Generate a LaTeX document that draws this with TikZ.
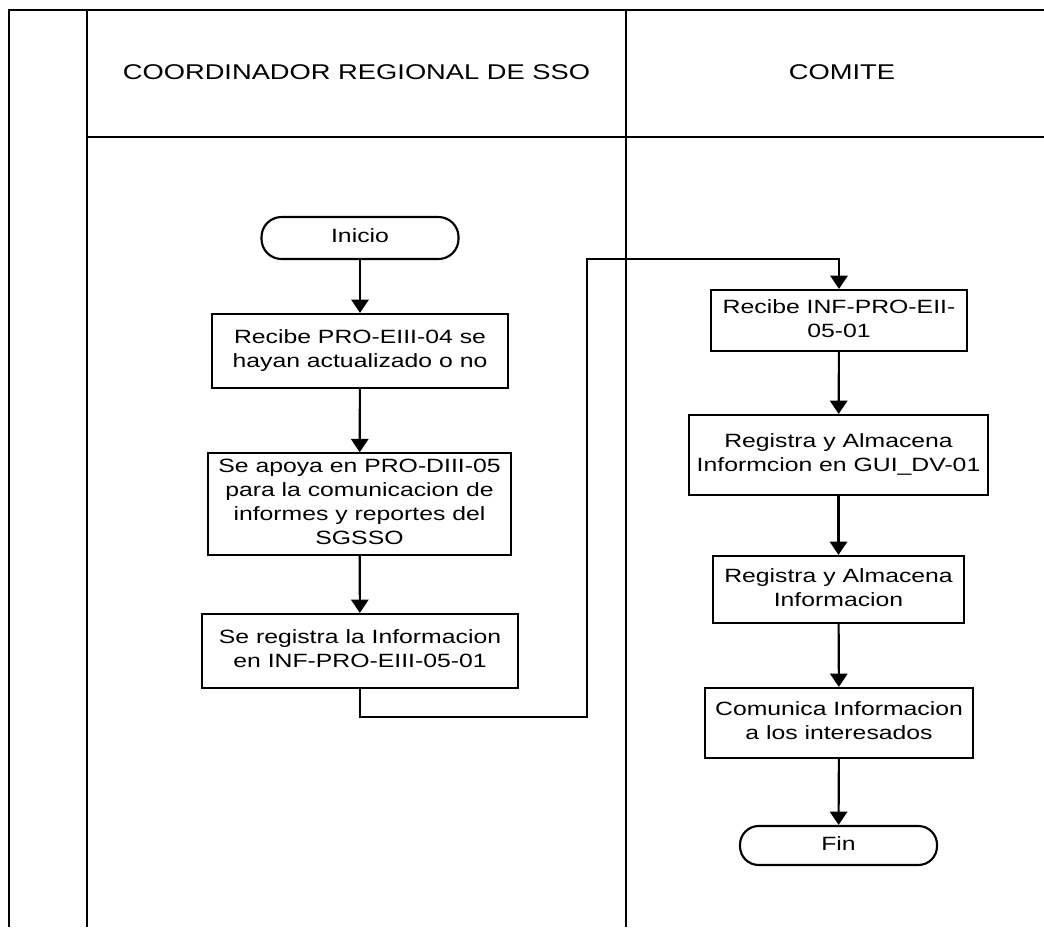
\documentclass[tikz,border=0pt]{standalone}
\usepackage{fontspec}
\setmainfont{Liberation Sans}
\usepackage{graphicx}
\usetikzlibrary{arrows.meta}

% text of the flow steps: slightly widened Arial-like lettering
\newcommand\steptext[1]{{\fontsize{14.4pt}{18pt}\selectfont\scalebox{1.29}[1]{\begin{tabular}{@{}c@{}}#1\end{tabular}}}}
% lane titles
\newcommand\lanetext[1]{{\fontsize{16pt}{19pt}\selectfont\scalebox{1.28}[1]{#1}}}

\tikzset{
  frame/.style={line width=1.7pt},
  stepbox/.style={draw, rectangle, line width=1.6pt, inner sep=2pt},
  terminal/.style={draw, rectangle, line width=1.6pt, inner sep=2pt},
  flow/.style={line width=1.6pt, -{Triangle[length=10pt,width=13pt]}},
}

\begin{document}
\begin{tikzpicture}[x=0.75pt, y=-0.75pt]
  \useasboundingbox[fill=white] (0,0) rectangle (1044,927);

  % swimlane frame
  \draw[frame] (9,927) -- (9,10) -- (1044,10);
  \draw[frame] (87,927) -- (87,10);
  \draw[frame] (626,927) -- (626,10);
  \draw[frame] (87,137) -- (1044,137);

  % lane titles
  \node (lane1) at (356.5,72) {\lanetext{COORDINADOR REGIONAL DE SSO}};
  \node (lane2) at (842,72) {\lanetext{COMITE}};

  % coordinator lane
  \node[terminal, rounded corners=15pt, minimum width=147.75pt, minimum height=31.5pt] (inicio) at (360,238) {\steptext{Inicio}};
  \node[stepbox, minimum width=222pt, minimum height=55.5pt] (b1) at (360,351)
    {\steptext{Recibe PRO-EIII-04 se\\hayan actualizado o no}};
  \node[stepbox, minimum width=227.25pt, minimum height=70.5pt] (b2) at (359.5,504)
    {\steptext{Se apoya en PRO-DIII-05\\para la comunicacion de\\informes y reportes del\\SGSSO}};
  \node[stepbox, minimum width=237pt, minimum height=55.5pt] (b3) at (360,651)
    {\steptext{Se registra la Informacion\\en INF-PRO-EIII-05-01}};

  % committee lane
  \node[stepbox, minimum width=192pt, minimum height=45.75pt] (c1) at (839,320.5)
    {\steptext{Recibe INF-PRO-EII-\\05-01}};
  \node[stepbox, minimum width=224.25pt, minimum height=60pt] (c2) at (838.5,455)
    {\steptext{Registra y Almacena\\Informcion en GUI\_DV-01}};
  \node[stepbox, minimum width=188.25pt, minimum height=50.25pt] (c3) at (838.5,589.5)
    {\steptext{Registra y Almacena\\Informacion}};
  \node[stepbox, minimum width=201pt, minimum height=52.5pt] (c4) at (839,723)
    {\steptext{Comunica Informacion\\a los interesados}};
  \node[terminal, rounded corners=14pt, minimum width=147.75pt, minimum height=29.25pt] (fin) at (838.5,845.5) {\steptext{Fin}};

  % connectors
  \draw[flow] (inicio) -- (b1);
  \draw[flow] (b1) -- (b2);
  \draw[flow] (b2) -- (b3);

  \coordinate (turnlow) at (587,717);
  \coordinate (turnhigh) at (587,259);
  \draw[flow] (b3.south) |- (turnlow) -- (turnhigh) -| (c1.north);

  \draw[flow] (c1) -- (c2);
  \draw[flow] (c2) -- (c3);
  \draw[flow] (c3) -- (c4);
  \draw[flow] (c4) -- (fin);
\end{tikzpicture}
\end{document}
